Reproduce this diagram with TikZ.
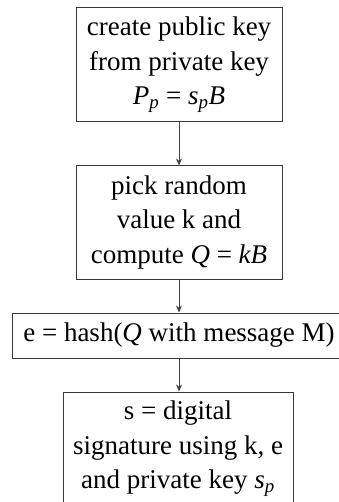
\documentclass[tikz,border=0pt]{standalone}
\usepackage{fontspec}
\setmainfont{Liberation Serif}
\usetikzlibrary{arrows.meta}
\newcommand{\vsym}[1]{\textit{#1}}
\newcommand{\vsub}[2]{\textit{#1}\textsubscript{\textit{#2}}}
\begin{document}
\begin{tikzpicture}[x=1pt,y=1pt,
  stepbox/.style={draw=black!78, line width=1pt, fill=white, inner sep=0pt,
    align=center, font=\fontsize{27}{34.5}\selectfont},
  flow/.style={draw=black!75, line width=0.9pt,
    -{Stealth[length=7pt,width=6pt]}}]
  \useasboundingbox (0,0) rectangle (339,-502);

  \node[stepbox, minimum width=206, minimum height=114] (keys) at (179,-65)
    {create public key\\from private key\\\vsub{P}{p} = \vsub{s}{p}\vsym{B}};
  \node[stepbox, minimum width=206, minimum height=113] (pick) at (179,-222.5)
    {pick random\\value k and\\compute \vsym{Q} = \vsym{kB}};
  \node[stepbox, minimum width=334, minimum height=45] (hash) at (179,-335.5)
    {e = hash(\vsym{Q} with message M)};
  \node[stepbox, minimum width=230, minimum height=114] (sign) at (178,-449)
    {s = digital\\signature using k, e\\and private key \vsub{s}{p}};

  \draw[flow] (keys.south -| 179,0) -- (pick.north -| 179,0);
  \draw[flow] (pick.south -| 179,0) -- (hash.north -| 179,0);
  \draw[flow] (hash.south -| 179,0) -- (sign.north -| 179,0);
\end{tikzpicture}
\end{document}
